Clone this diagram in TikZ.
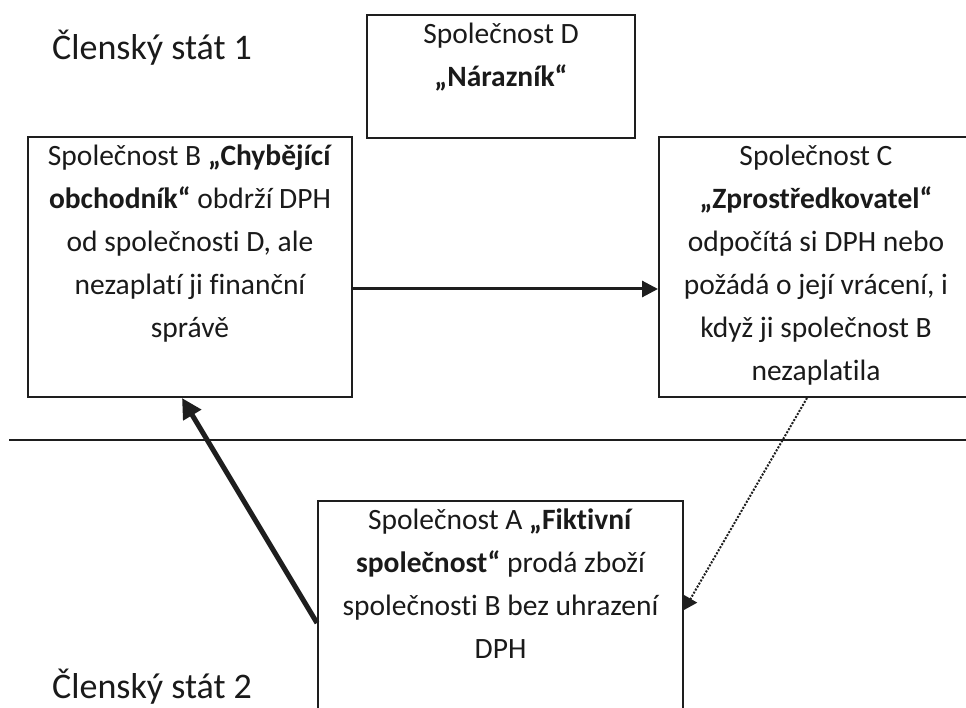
\documentclass[tikz,border=0pt]{standalone}
\usepackage{fontspec}
\setmainfont{Carlito}[Ligatures={NoCommon}]
\usepackage{xcolor}
\usetikzlibrary{arrows.meta,positioning}
\definecolor{linec}{HTML}{1E1E1E}
\definecolor{textc}{HTML}{1A1A1A}
\tikzset{
  box/.style={draw=linec,line width=2pt,inner sep=0pt},
  txt/.style={align=center,inner sep=0pt,text=textc,font=\fontsize{29.5}{43}\selectfont},
  lbl/.style={anchor=base west,inner sep=0pt,text=textc,font=\fontsize{36}{40}\selectfont},
  ar/.style={-{Triangle[length=16pt,width=16pt]},line width=3pt,linec},
  arbig/.style={-{Triangle[length=20pt,width=20pt]},line width=5pt,linec},
  ardot/.style={-{Triangle[length=13pt,width=15pt]},line width=2pt,linec,dash pattern=on 2pt off 1.5pt}
}
\begin{document}
\begin{tikzpicture}[x=1pt,y=-1pt]
\useasboundingbox (0,0) rectangle (966,708);
\fill[white] (0,0) rectangle (966,708);
\node[box,minimum width=268pt,minimum height=123pt] (nD) at (501,76.5) {};
\node[box,minimum width=324pt,minimum height=260pt] (nB) at (190,267) {};
\node[box,minimum width=314pt,minimum height=260pt] (nC) at (816,267) {};
\node[box,minimum width=365pt,minimum height=218pt] (nA) at (500.5,610) {};
\node[txt,below=9pt of nD.north] (tD) {Společnost D\\\textbf{„Nárazník“}};
\node[txt,below=9pt of nB.north] (tB) {Společnost B \textbf{„Chybějící}\\\textbf{obchodník“} obdrží DPH\\od společnosti D, ale\\nezaplatí ji finanční\\správě};
\node[txt,below=9pt of nC.north] (tC) {Společnost C\\\textbf{„Zprostředkovatel“}\\odpočítá si DPH nebo\\požádá o její vrácení, i\\když ji společnost B\\nezaplatila};
\node[txt,below=9pt of nA.north] (tA) {Společnost A \textbf{„Fiktivní}\\\textbf{společnost“} prodá zboží\\společnosti B bez uhrazení\\DPH};
\node[lbl] (st1) at (52,60) {Členský stát 1};
\node[lbl] (st2) at (52,698) {Členský stát 2};
\draw[linec,line width=2pt] (9,440) -- (966,440);
\draw[ar] ([yshift=-22pt]nB.east) -- ([yshift=-22pt]nC.west);
\draw[arbig] ([yshift=-13pt]nA.west) -- ([xshift=-8pt]nB.south);
\draw[ardot] ([xshift=-9pt]nC.south) -- (nA.east);
\end{tikzpicture}
\end{document}
